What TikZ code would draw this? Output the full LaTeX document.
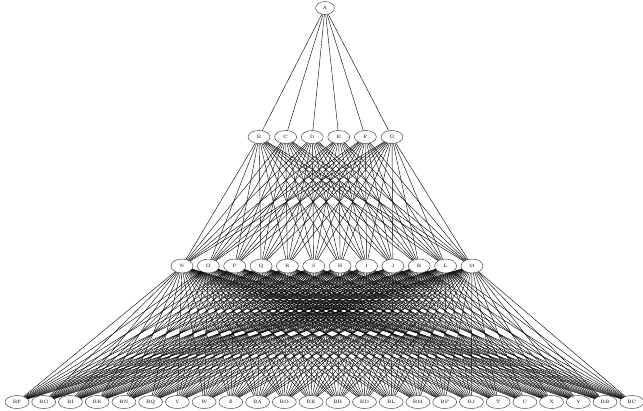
\documentclass[tikz,border=0pt]{standalone}
\usetikzlibrary{shapes.geometric}

\begin{document}
\begin{tikzpicture}[
    x=0.03cm, y=-0.03cm,
    vert/.style={ellipse, draw=black!75, fill=white, inner sep=0pt,
                 minimum width=6.6mm, minimum height=3.9mm,
                 font=\fontsize{4}{4}\selectfont},
    link/.style={black, line width=0.35pt},
  ]
  \useasboundingbox (0,0) rectangle (643,410);

  % root
  \node[vert, minimum width=5.6mm] (A) at (325,8) {A};

  % second row
  \foreach \n [count=\i from 0] in {B,C,D,E,F,G}
    \node[vert] (\n) at (259+26.6*\i,137) {\n};

  % third row
  \foreach \n [count=\i from 0] in {N,O,P,Q,R,S,H,I,J,K,L,M}
    \node[vert, minimum height=4.2mm] (\n) at (182+26.36*\i,266) {\n};

  % leaves
  \foreach \n [count=\i from 0] in {BF,BG,BI,BK,BN,BQ,V,W,Z,BA,BO,BE,
                                    BH,BD,BL,BM,BP,BJ,T,U,X,Y,BB,BC}
    \node[vert, minimum width=7.2mm] (\n) at (17+26.73*\i,402) {\n};

  % edges between consecutive rows (every pair)
  \foreach \v in {B,C,D,E,F,G}
    \draw[link] (A) -- (\v);
  \foreach \u in {B,C,D,E,F,G}
    \foreach \v in {N,O,P,Q,R,S,H,I,J,K,L,M}
      \draw[link] (\u) -- (\v);
  \foreach \u in {N,O,P,Q,R,S,H,I,J,K,L,M}
    \foreach \v in {BF,BG,BI,BK,BN,BQ,V,W,Z,BA,BO,BE,
                    BH,BD,BL,BM,BP,BJ,T,U,X,Y,BB,BC}
      \draw[link] (\u) -- (\v);
\end{tikzpicture}
\end{document}
